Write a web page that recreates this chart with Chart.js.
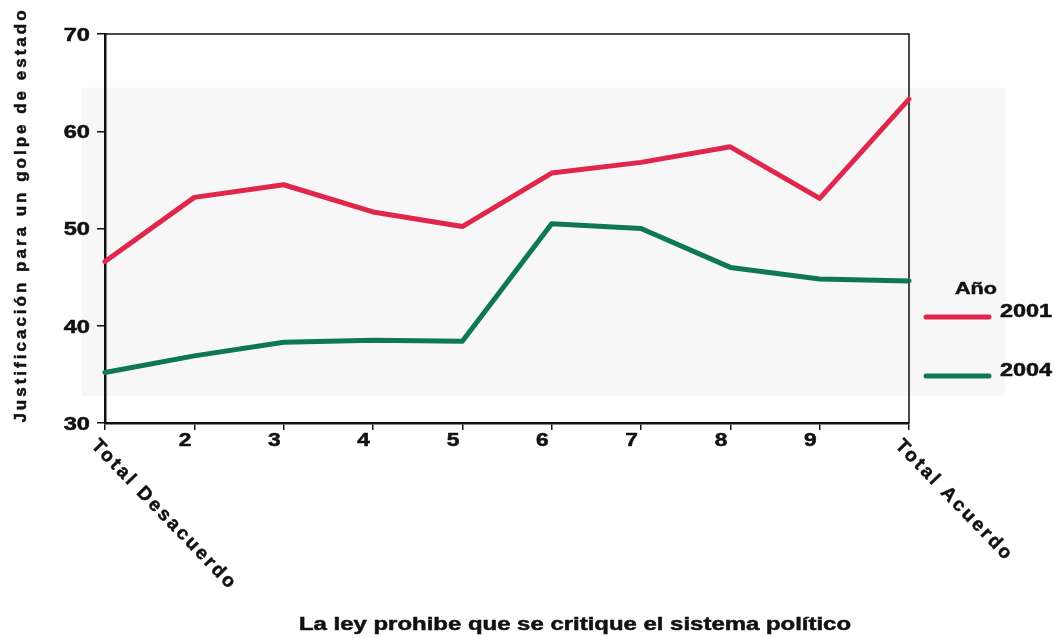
<!DOCTYPE html>
<html>
<head>
<meta charset="utf-8">
<script src="https://cdn.jsdelivr.net/npm/chart.js@4.4.0/dist/chart.umd.min.js"></script>
<style>
  html, body { margin: 0; padding: 0; background: #ffffff; }
  #wrap { width: 1057px; height: 638px; position: relative; }
</style>
</head>
<body>
<div id="wrap"><canvas id="c"></canvas></div>
<script>
// ---- data ----
const categories = ['Total Desacuerdo', '2', '3', '4', '5', '6', '7', '8', '9', 'Total Acuerdo'];
const values2001 = [46.6, 53.2, 54.5, 51.7, 50.2, 55.7, 56.8, 58.4, 53.1, 63.3];
const values2004 = [35.2, 36.9, 38.3, 38.5, 38.4, 50.5, 50.0, 46.0, 44.8, 44.6];
const seriesNames = ['2001', '2004'];
const yTicks = [30, 40, 50, 60, 70];
const legendTitle = 'Año';
const yTitle = 'Justificación para un golpe de estado';
const xTitle = 'La ley prohibe que se critique el sistema político';

const RED = '#e1264c';
const GREEN = '#0f7658';
const INK = '#111111';
const FONT = '"Liberation Sans", Arial, Helvetica, sans-serif';

// draws real canvas text, optionally widened to mimic the reference's wide bold face
function drawText(ctx, s, x, y, o) {
  ctx.save();
  ctx.translate(x, y);
  if (o.rot) ctx.rotate(o.rot);
  ctx.scale(o.sx || 1, 1);
  ctx.font = 'bold ' + o.size + 'px ' + FONT;
  ctx.letterSpacing = (o.ls || 0) + 'px';
  ctx.textAlign = o.align || 'left';
  ctx.textBaseline = o.baseline || 'middle';
  ctx.fillStyle = INK;
  ctx.strokeStyle = INK;
  ctx.lineWidth = 0.5;
  ctx.fillText(s, 0, 0);
  ctx.strokeText(s, 0, 0);
  ctx.restore();
}

const decorPlugin = {
  id: 'decor',
  beforeDraw(chart) {
    const ctx = chart.ctx;
    const a = chart.chartArea;
    const y = chart.scales.y;
    ctx.save();
    ctx.fillStyle = '#f7f7f7';
    const top = y.getPixelForValue(64.5);
    const bot = y.getPixelForValue(32.8);
    ctx.fillRect(a.left - 23, top, (a.right + 96) - (a.left - 23), bot - top);
    ctx.restore();
  },
  beforeDatasetsDraw(chart) {
    const ctx = chart.ctx;
    const a = chart.chartArea;
    ctx.save();
    ctx.strokeStyle = INK;
    ctx.lineWidth = 1.5;
    ctx.beginPath();
    ctx.moveTo(a.left, a.top);
    ctx.lineTo(a.right, a.top);
    ctx.lineTo(a.right, a.bottom);
    ctx.stroke();
    ctx.restore();
  },
  afterDraw(chart) {
    const ctx = chart.ctx;
    const a = chart.chartArea;
    const xs = chart.scales.x;
    const ys = chart.scales.y;
    // y tick labels
    yTicks.forEach(v => {
      drawText(ctx, String(v), a.left - 15, ys.getPixelForValue(v) + 2, { size: 17.5, sx: 1.35, align: 'right' });
    });
    // x tick labels
    categories.forEach((lab, i) => {
      const px = xs.getPixelForValue(i);
      if (/^\d+$/.test(lab)) {
        drawText(ctx, lab, px - 3, a.bottom + 9, { size: 17.5, sx: 1.3, align: 'right', baseline: 'top' });
      } else {
        drawText(ctx, lab, px - 4, a.bottom + 13, { size: 19, ls: 2.7, align: 'left', baseline: 'top', rot: 46 * Math.PI / 180 });
      }
    });
    // x title
    drawText(ctx, xTitle, 575, 625, { size: 18, sx: 1.33, align: 'center' });
    // y title
    drawText(ctx, yTitle, 21, 215, { size: 17, ls: 3, align: 'center', rot: -Math.PI / 2 });
    // legend
    drawText(ctx, legendTitle, a.right + 67, 289, { size: 17, sx: 1.27, align: 'center' });
    const items = [{ name: seriesNames[0], color: RED, y: 317 }, { name: seriesNames[1], color: GREEN, y: 376 }];
    items.forEach(it => {
      ctx.save();
      ctx.strokeStyle = it.color;
      ctx.lineWidth = 5;
      ctx.lineCap = 'round';
      ctx.beginPath();
      ctx.moveTo(a.right + 17, it.y);
      ctx.lineTo(a.right + 80, it.y);
      ctx.stroke();
      ctx.restore();
      drawText(ctx, it.name, a.right + 91, it.y - 5, { size: 18, sx: 1.3, align: 'left' });
    });
  }
};

new Chart(document.getElementById('c'), {
  type: 'line',
  data: {
    labels: categories,
    datasets: [
      { label: seriesNames[0], data: values2001, borderColor: RED, backgroundColor: RED, borderWidth: 5,
        pointRadius: 0, tension: 0, borderJoinStyle: 'round', borderCapStyle: 'round', clip: false },
      { label: seriesNames[1], data: values2004, borderColor: GREEN, backgroundColor: GREEN, borderWidth: 5,
        pointRadius: 0, tension: 0, borderJoinStyle: 'round', borderCapStyle: 'round', clip: false }
    ]
  },
  options: {
    responsive: true,
    maintainAspectRatio: false,
    animation: false,
    layout: { padding: { top: 34, right: 148, left: 0, bottom: 0 } },
    plugins: { legend: { display: false }, tooltip: { enabled: false } },
    scales: {
      x: {
        offset: false,
        afterFit(scale) { scale.height = 215; },
        grid: { display: true, drawOnChartArea: false, drawTicks: true, tickLength: 7, color: INK, lineWidth: 1.5 },
        border: { display: true, color: INK, width: 2.5 },
        ticks: { color: 'rgba(0,0,0,0)', autoSkip: false, maxRotation: 0, minRotation: 0 }
      },
      y: {
        min: 30, max: 70,
        afterFit(scale) { scale.width = 105; },
        afterBuildTicks(scale) { scale.ticks = yTicks.map(v => ({ value: v })); },
        grid: { display: true, drawOnChartArea: false, drawTicks: true, tickLength: 8, color: INK, lineWidth: 1.5 },
        border: { display: true, color: INK, width: 2.5 },
        ticks: { color: 'rgba(0,0,0,0)', padding: 4, font: { family: FONT, size: 18, weight: 'bold' } }
      }
    }
  },
  plugins: [decorPlugin]
});
</script>
</body>
</html>
